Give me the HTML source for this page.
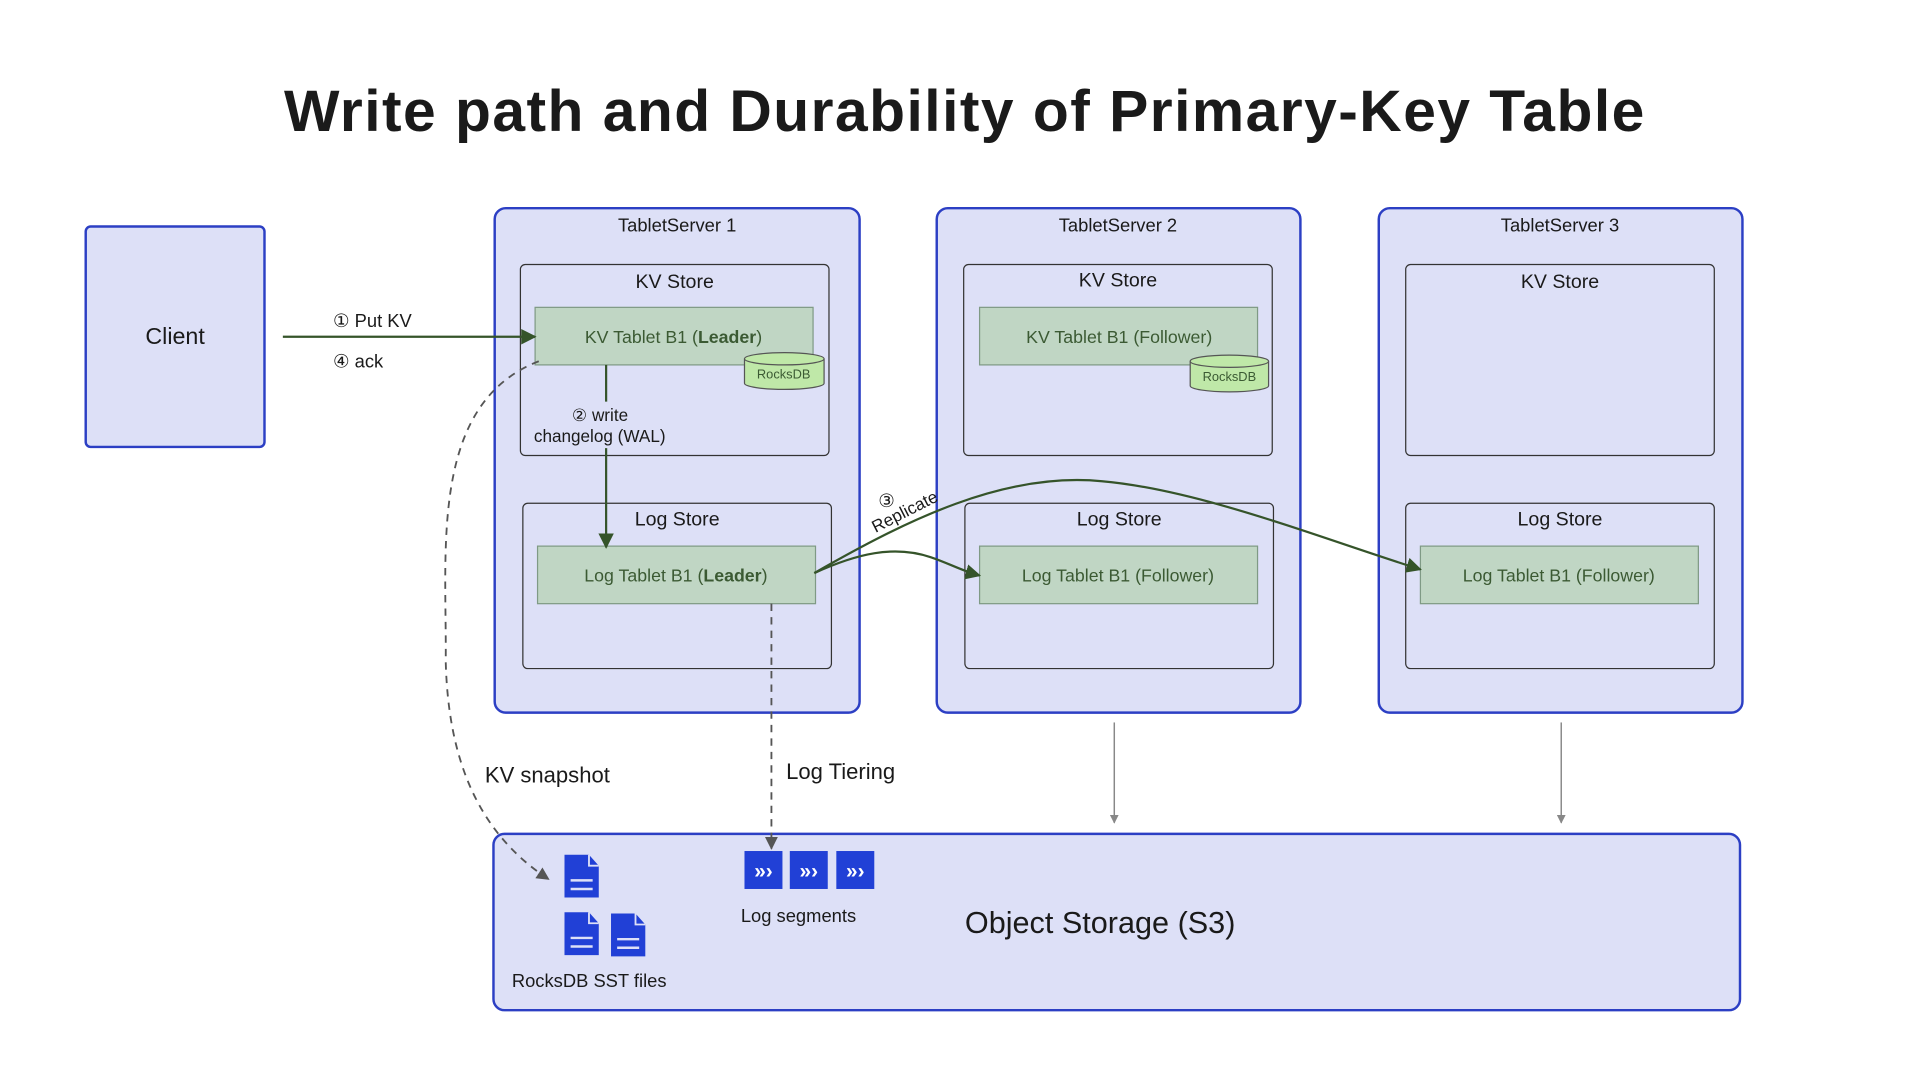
<!DOCTYPE html>
<html><head><meta charset="utf-8"><style>
html,body{margin:0;padding:0;background:#fff}
svg{display:block}
text{font-family:"Liberation Sans",sans-serif;fill:#1a1a1a}
</style></head><body>
<svg width="1920" height="1080" viewBox="0 0 1568 882" xmlns="http://www.w3.org/2000/svg">
<defs>
<marker id="ag" viewBox="0 0 10 10" refX="9" refY="5" markerWidth="7" markerHeight="7" orient="auto"><path d="M0,0 L10,5 L0,10 z" fill="#35542a"/></marker>
<marker id="ad" viewBox="0 0 10 10" refX="9" refY="5" markerWidth="7" markerHeight="7" orient="auto"><path d="M0,0 L10,5 L0,10 z" fill="#555"/></marker>
<marker id="ay" viewBox="0 0 10 10" refX="9" refY="5" markerWidth="6" markerHeight="6" orient="auto"><path d="M0,0 L10,5 L0,10 z" fill="#888"/></marker>
</defs>
<text x="788" y="107" text-anchor="middle" font-size="48" font-weight="bold" letter-spacing="1.2" fill="#222">Write path and Durability of Primary-Key Table</text>

<rect x="70" y="185" width="146" height="180" rx="4" fill="#dde0f7" stroke="#2c3fc4" stroke-width="2"/>
<text x="143" y="281" text-anchor="middle" font-size="19">Client</text>

<g fill="#dde0f7" stroke="#2c3fc4" stroke-width="2">
<rect x="404" y="170" width="298" height="412" rx="9"/>
<rect x="765" y="170" width="297" height="412" rx="9"/>
<rect x="1126" y="170" width="297" height="412" rx="9"/>
<rect x="403" y="681" width="1018" height="144" rx="9"/>
</g>
<g font-size="15" text-anchor="middle">
<text x="553" y="189">TabletServer 1</text>
<text x="913" y="189">TabletServer 2</text>
<text x="1274" y="189">TabletServer 3</text>
</g>
<g fill="#dde0f7" stroke="#333" stroke-width="1">
<rect x="425" y="216" width="252" height="156" rx="4"/>
<rect x="787" y="216" width="252" height="156" rx="4"/>
<rect x="1148" y="216" width="252" height="156" rx="4"/>
<rect x="427" y="411" width="252" height="135" rx="4"/>
<rect x="788" y="411" width="252" height="135" rx="4"/>
<rect x="1148" y="411" width="252" height="135" rx="4"/>
</g>
<g font-size="16" text-anchor="middle">
<text x="551" y="235">KV Store</text>
<text x="913" y="234">KV Store</text>
<text x="1274" y="235">KV Store</text>
<text x="553" y="429">Log Store</text>
<text x="914" y="429">Log Store</text>
<text x="1274" y="429">Log Store</text>
</g>
<g fill="#c0d6c4" stroke="#7f9a85" stroke-width="1">
<rect x="437" y="251" width="227" height="47"/>
<rect x="800" y="251" width="227" height="47"/>
<rect x="439" y="446" width="227" height="47"/>
<rect x="800" y="446" width="227" height="47"/>
<rect x="1160" y="446" width="227" height="47"/>
</g>
<g font-size="14.5" text-anchor="middle">
<text x="550" y="280" style="fill:#3b5a33">KV Tablet B1 (<tspan font-weight="bold">Leader</tspan>)</text>
<text x="914" y="280" style="fill:#3b5a33">KV Tablet B1 (Follower)</text>
<text x="552" y="475" style="fill:#3b5a33">Log Tablet B1 (<tspan font-weight="bold">Leader</tspan>)</text>
<text x="913" y="475" style="fill:#3b5a33">Log Tablet B1 (Follower)</text>
<text x="1273" y="475" style="fill:#3b5a33">Log Tablet B1 (Follower)</text>
</g>
<g stroke="#555" stroke-width="1" fill="#bfe8a8">
<path d="M608,293 L608,313 A32.5,5 0 0 0 673,313 L673,293"/>
<ellipse cx="640.5" cy="293" rx="32.5" ry="5"/>
<path d="M972,295 L972,315 A32,5 0 0 0 1036,315 L1036,295"/>
<ellipse cx="1004" cy="295" rx="32" ry="5"/>
</g>
<text x="640" y="309" font-size="10.5" text-anchor="middle" style="fill:#3b5a33">RocksDB</text>
<text x="1004" y="311" font-size="10.5" text-anchor="middle" style="fill:#3b5a33">RocksDB</text>

<line x1="231" y1="275" x2="437" y2="275" stroke="#35542a" stroke-width="1.8" marker-end="url(#ag)"/>
<text x="272" y="267" font-size="15">① Put KV</text>
<text x="272" y="300" font-size="15">④ ack</text>
<line x1="495" y1="298" x2="495" y2="328" stroke="#35542a" stroke-width="1.8"/>
<line x1="495" y1="366" x2="495" y2="447" stroke="#35542a" stroke-width="1.8" marker-end="url(#ag)"/>
<text x="467" y="344" font-size="14">② write</text>
<text x="436" y="361" font-size="14">changelog (WAL)</text>

<path d="M665,468 C700,452 730,445 760,455 C775,460 785,466 800,470" fill="none" stroke="#35542a" stroke-width="1.8" marker-end="url(#ag)"/>
<path d="M665,468 C740,425 820,385 900,393 C980,400 1080,440 1160,465" fill="none" stroke="#35542a" stroke-width="1.8" marker-end="url(#ag)"/>
<g transform="translate(741,422) rotate(-27)"><text x="0" y="0" font-size="14" text-anchor="middle">Replicate</text></g>
<text x="724" y="414" font-size="15" text-anchor="middle">③</text>

<path d="M440,295 C350,330 365,450 364,540 C366,620 390,680 448,718" fill="none" stroke="#555" stroke-width="1.5" stroke-dasharray="6,5" marker-end="url(#ad)"/>
<text x="396" y="639" font-size="18">KV snapshot</text>
<line x1="630" y1="493" x2="630" y2="693" stroke="#555" stroke-width="1.5" stroke-dasharray="6,5" marker-end="url(#ad)"/>
<text x="642" y="636" font-size="18">Log Tiering</text>
<line x1="910" y1="590" x2="910" y2="672" stroke="#888" stroke-width="1.2" marker-end="url(#ay)"/>
<line x1="1275" y1="590" x2="1275" y2="672" stroke="#888" stroke-width="1.2" marker-end="url(#ay)"/>

<g fill="#2140d6">
<path d="M461,698 h20 l8,9 v26 h-28 z"/>
<path d="M461,745 h20 l8,9 v26 h-28 z"/>
<path d="M499,746 h20 l8,9 v26 h-28 z"/>
</g>
<g stroke="#dde0f7" stroke-width="2">
<line x1="466" y1="719" x2="484" y2="719"/><line x1="466" y1="726" x2="484" y2="726"/>
<line x1="466" y1="766" x2="484" y2="766"/><line x1="466" y1="773" x2="484" y2="773"/>
<line x1="504" y1="767" x2="522" y2="767"/><line x1="504" y1="774" x2="522" y2="774"/>
</g>
<g stroke="#dde0f7" stroke-width="1.5" fill="none">
<path d="M481,698 v9 h8"/><path d="M481,745 v9 h8"/><path d="M519,746 v9 h8"/>
</g>
<text x="418" y="806" font-size="15">RocksDB SST files</text>
<g fill="#2140d6">
<rect x="608" y="695" width="31" height="31"/>
<rect x="645" y="695" width="31" height="31"/>
<rect x="683" y="695" width="31" height="31"/>
</g>
<g font-size="17" font-weight="bold" text-anchor="middle">
<text x="623.5" y="717" style="fill:#fff">»›</text>
<text x="660.5" y="717" style="fill:#fff">»›</text>
<text x="698.5" y="717" style="fill:#fff">»›</text>
</g>
<text x="605" y="753" font-size="15">Log segments</text>
<text x="788" y="762" font-size="25">Object Storage (S3)</text>
</svg>
</body></html>
